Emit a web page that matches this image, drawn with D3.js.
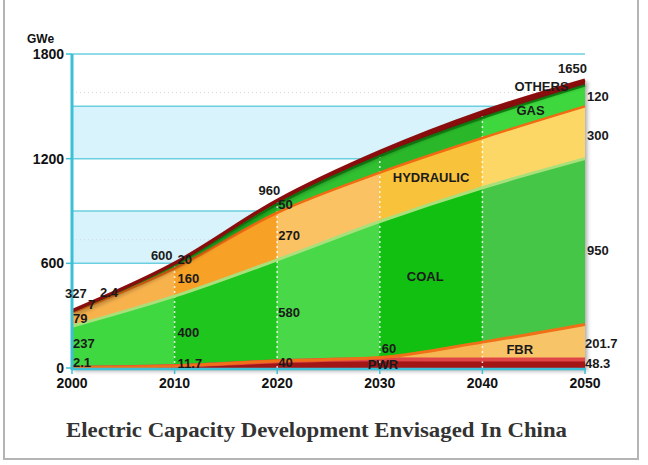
<!DOCTYPE html>
<html>
<head>
<meta charset="utf-8">
<script src="https://cdn.jsdelivr.net/npm/d3@7"></script>
<style>
  html, body { margin: 0; padding: 0; background: #fff; }
  svg { display: block; }
  text { font-family: Arial, "Liberation Sans", Helvetica, sans-serif; }
  text.title { font-family: "Liberation Serif", "Times New Roman", serif; }
</style>
</head>
<body>
<svg id="chart" width="648" height="465"></svg>
<script>
// ---------- data ----------
const years = [2000, 2010, 2020, 2030, 2040, 2050];
const pwr = [2.1, 11.7, 38, 50, 48.3, 48.3];
const fbr = [0, 0, 2, 10, 100, 201.7];
const coal = [237, 400, 580, 780, 885, 950];
const hydraulic = [79, 160, 270, 280, 285, 300];
const gas = [7, 20, 50, 95, 115, 120];
const others = [2.4, 8.3, 20, 25, 35, 30];
const yTicks = [0, 600, 1200, 1800];
const gridValues = [600, 900, 1200, 1500, 1800];
const title = "Electric Capacity Development Envisaged In China";
const unitLabel = "GWe";

// ---------- styles ----------
const keys = ["pwr", "fbr", "coal", "hydraulic", "gas", "others"];
const colFill = {
  pwr: ["#a31616", "#a31616", "#a31616", "#a31616", "#a31616"],
  fbr: ["#f8c060", "#f8c060", "#f8c060", "#f6b652", "#f8c468"],
  coal: ["#40d840", "#1ec61e", "#48d848", "#12c012", "#46c646"],
  hydraulic: ["#f8b24c", "#f7a126", "#fbc263", "#f8c23a", "#fcd766"],
  gas: ["#2bbf2b", "#22b822", "#30c030", "#2ab82a", "#3ed83e"],
  others: ["#9e1212", "#9e1212", "#9e1212", "#9e1212", "#9e1212"]
};
const topLine = {
  pwr: ["#e04646", 4],
  fbr: ["#f07018", 3],
  coal: ["#a8e07c", 3],
  hydraulic: ["#f26a12", 2.5],
  gas: ["#128c12", 2.5],
  others: ["#8a0a0a", 3.5]
};
const axisColor = "#3cc0d6";

const table = years.map((yr, i) => ({
  year: yr, pwr: pwr[i], fbr: fbr[i], coal: coal[i],
  hydraulic: hydraulic[i], gas: gas[i], others: others[i]
}));
const totals = table.map(d => keys.reduce((s, k) => s + d[k], 0));

const svg = d3.select("#chart");
const x = d3.scaleLinear().domain([2000, 2050]).range([72, 585]);
const y = d3.scaleLinear().domain([0, 1800]).range([368, 54]);

const defs = svg.append("defs");
const shadow = defs.append("filter").attr("id", "shadow")
  .attr("x", "-5%").attr("y", "-5%").attr("width", "115%").attr("height", "120%");
shadow.append("feDropShadow").attr("dx", 2).attr("dy", 3)
  .attr("stdDeviation", 2).attr("flood-color", "#000").attr("flood-opacity", 0.35);

// outer frame
svg.append("line").attr("x1", 4).attr("x2", 4).attr("y1", 0).attr("y2", 460)
  .attr("stroke", "#b4b4b4").attr("stroke-width", 2);
svg.append("line").attr("x1", 638).attr("x2", 638).attr("y1", 0).attr("y2", 460)
  .attr("stroke", "#b4b4b4").attr("stroke-width", 2);
svg.append("line").attr("x1", 4).attr("x2", 638).attr("y1", 459).attr("y2", 459)
  .attr("stroke", "#b4b4b4").attr("stroke-width", 2);

// background bands
[[1200, 1500], [600, 900], [0, 300]].forEach(([a, b]) => {
  svg.append("rect").attr("x", x(2000)).attr("width", x(2050) - x(2000))
    .attr("y", y(b)).attr("height", y(a) - y(b)).attr("fill", "#d8f3fb");
});
// faint dotted lines
[1580, 735].forEach(v => {
  svg.append("line").attr("x1", x(2000)).attr("x2", x(2050))
    .attr("y1", y(v)).attr("y2", y(v))
    .attr("stroke", "#d0d8dc").attr("stroke-dasharray", "1,3");
});
// grid lines
gridValues.forEach(v => {
  svg.append("line").attr("x1", x(2000)).attr("x2", x(2050))
    .attr("y1", y(v)).attr("y2", y(v))
    .attr("stroke", "#6ccfe0").attr("stroke-width", 1.5);
});

// stacked areas
const stack = d3.stack().keys(keys);
const series = stack(table);
const area = d3.area().x(d => x(d.data.year)).y0(d => y(d[0])).y1(d => y(d[1]))
  .curve(d3.curveMonotoneX);
const topOf = d3.line().x(d => x(d.data.year)).y(d => y(d[1])).curve(d3.curveMonotoneX);

// shadow below whole stack
const totalArea = d3.area().x((d, i) => x(years[i])).y0(y(0)).y1(d => y(d))
  .curve(d3.curveMonotoneX);
svg.append("path").datum(totals).attr("d", totalArea).attr("fill", "#999")
  .attr("filter", "url(#shadow)");

for (let c = 0; c < years.length - 1; c++) {
  defs.append("clipPath").attr("id", "col" + c).append("rect")
    .attr("x", x(years[c]) - (c === 0 ? 0 : 0.5))
    .attr("width", x(years[c + 1]) - x(years[c]) + 1)
    .attr("y", 0).attr("height", 465);
  const g = svg.append("g").attr("clip-path", `url(#col${c})`);
  series.forEach(s => {
    g.append("path").datum(s).attr("d", area).attr("fill", colFill[s.key][c]);
  });
}

// dashed column separators
for (let i = 1; i < years.length - 1; i++) {
  svg.append("line").attr("x1", x(years[i])).attr("x2", x(years[i]))
    .attr("y1", y(0)).attr("y2", y(totals[i]))
    .attr("stroke", "#ffffff").attr("stroke-opacity", 0.85)
    .attr("stroke-width", 1.5).attr("stroke-dasharray", "2,3");
}

// layer top lines
series.forEach(s => {
  const [col, w] = topLine[s.key];
  const p = svg.append("path").datum(s).attr("d", topOf).attr("fill", "none")
    .attr("stroke", col).attr("stroke-width", w);
  if (s.key === "others") p.attr("filter", "url(#shadow)");
});

// axes
svg.append("line").attr("x1", x(2000)).attr("x2", x(2000)).attr("y1", y(1800)).attr("y2", y(0) + 2)
  .attr("stroke", axisColor).attr("stroke-width", 3);
svg.append("line").attr("x1", x(2000)).attr("x2", x(2050) + 1).attr("y1", y(0) + 1).attr("y2", y(0) + 1)
  .attr("stroke", axisColor).attr("stroke-width", 2.5);
yTicks.forEach(v => {
  svg.append("line").attr("x1", x(2000) - 6).attr("x2", x(2000)).attr("y1", y(v)).attr("y2", y(v))
    .attr("stroke", axisColor).attr("stroke-width", 1.5);
  svg.append("text").attr("x", x(2000) - 8).attr("y", y(v) + 5)
    .attr("text-anchor", "end").attr("font-size", 14).attr("font-weight", "bold")
    .attr("fill", "#111").text(v);
});
years.forEach(yr => {
  svg.append("line").attr("x1", x(yr)).attr("x2", x(yr)).attr("y1", y(0)).attr("y2", y(0) + 6)
    .attr("stroke", axisColor).attr("stroke-width", 1.5);
  svg.append("text").attr("x", x(yr)).attr("y", y(0) + 20)
    .attr("text-anchor", "middle").attr("font-size", 14).attr("font-weight", "bold")
    .attr("fill", "#111").text(yr);
});
svg.append("text").attr("x", 27).attr("y", 43).attr("font-size", 12).attr("font-weight", "bold")
  .attr("fill", "#111").text(unitLabel);

// value labels: [text, year, dx, value, anchor]
const labels = [
  ["327", 2000, -7, 401, "start"], ["2.4", 2000, 28, 407, "start"], ["7", 2000, 16, 338, "start"],
  ["79", 2000, 1, 258, "start"], ["237", 2000, 1, 115, "start"], ["2.1", 2000, 1, 6, "start"],
  ["600", 2010, -2, 619, "end"], ["20", 2010, 3, 596, "start"], ["160", 2010, 3, 487, "start"],
  ["400", 2010, 3, 178, "start"], ["11.7", 2010, 3, 2, "start"],
  ["960", 2020, 3, 992, "end"], ["50", 2020, 1, 911, "start"], ["270", 2020, 1, 734, "start"],
  ["580", 2020, 1, 292, "start"], ["40", 2020, 1, 6, "start"],
  ["60", 2030, 2, 86, "start"], ["PWR", 2030, -12, -6, "start"], ["COAL", 2030, 27, 499, "start"],
  ["HYDRAULIC", 2030, 13, 1066, "start"],
  ["OTHERS", 2040, 32, 1588, "start"], ["GAS", 2040, 34, 1450, "start"], ["FBR", 2040, 24, 80, "start"],
  ["1650", 2050, 2, 1691, "end"], ["120", 2050, 2, 1530, "start"], ["300", 2050, 2, 1307, "start"],
  ["950", 2050, 2, 648, "start"], ["201.7", 2050, 0, 115, "start"], ["48.3", 2050, 0, 0, "start"]
];
svg.append("g").selectAll("text").data(labels).join("text")
  .attr("x", d => x(d[1]) + d[2]).attr("y", d => y(d[3]))
  .attr("text-anchor", d => d[4])
  .attr("font-size", 13).attr("font-weight", "bold").attr("fill", "#1a1a1a")
  .text(d => d[0]);

// title
svg.append("text").attr("class", "title").attr("x", 66).attr("y", 437)
  .attr("font-size", 22).attr("font-weight", "bold").attr("fill", "#333")
  .attr("textLength", 501).attr("lengthAdjust", "spacingAndGlyphs")
  .text(title);
</script>
</body>
</html>
